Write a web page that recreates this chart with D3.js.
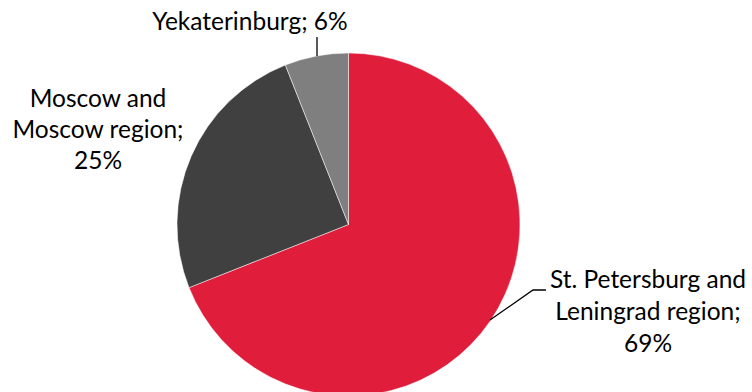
<!DOCTYPE html>
<html>
<head>
<meta charset="utf-8">
<script src="https://cdn.jsdelivr.net/npm/d3@7"></script>
<style>
  html, body { margin: 0; padding: 0; background: #fff; }
  svg { display: block; }
  text { font-family: Lato, "Noto Sans", sans-serif; font-size: 24.5px; fill: #000; }
</style>
</head>
<body>
<svg id="chart"></svg>
<script>
// Data: share by region, clockwise from 12 o'clock
const regions = ["St. Petersburg and Leningrad region", "Moscow and Moscow region", "Yekaterinburg"];
const shares = [69, 25, 6];
const colors = ["#E01E3C", "#404040", "#7F7F7F"];

// label text lines per slice
const labelLines = [
  ["St. Petersburg and", "Leningrad region;", "69%"],
  ["Moscow and", "Moscow region;", "25%"],
  ["Yekaterinburg; 6%"]
];

const width = 752, height = 392;
const cx = 348.5, cy = 224.5, radius = 171.5;

const svg = d3.select("#chart")
  .attr("width", width)
  .attr("height", height);

const pie = d3.pie().sort(null).value(d => d)(shares);
const arc = d3.arc().innerRadius(0).outerRadius(radius);

const g = svg.append("g").attr("transform", `translate(${cx},${cy})`);

g.selectAll("path")
  .data(pie)
  .join("path")
  .attr("d", arc)
  .attr("fill", (d, i) => colors[i])
  .attr("stroke", "#fff")
  .attr("stroke-width", 0.5);

// label placement (layout, not data)
const labelPos = [
  { x: 648, y: 288, lineH: 32 },
  { x: 98, y: 107, lineH: 31 },
  { x: 250, y: 30, lineH: 31 }
];

// leader lines
const leaders = [
  [[490, 320], [533, 290], [546, 290]],
  null,
  [[317, 37], [317, 56]]
];

leaders.forEach(pts => {
  if (!pts) return;
  svg.append("path")
    .attr("d", d3.line()(pts))
    .attr("fill", "none")
    .attr("stroke", "#000")
    .attr("stroke-width", 1.3);
});

labelLines.forEach((lines, i) => {
  const p = labelPos[i];
  const t = svg.append("text")
    .attr("text-anchor", "middle")
    .attr("x", p.x)
    .attr("y", p.y);
  lines.forEach((ln, j) => {
    t.append("tspan")
      .attr("x", p.x)
      .attr("y", p.y + j * p.lineH)
      .text(ln);
  });
});
</script>
</body>
</html>
